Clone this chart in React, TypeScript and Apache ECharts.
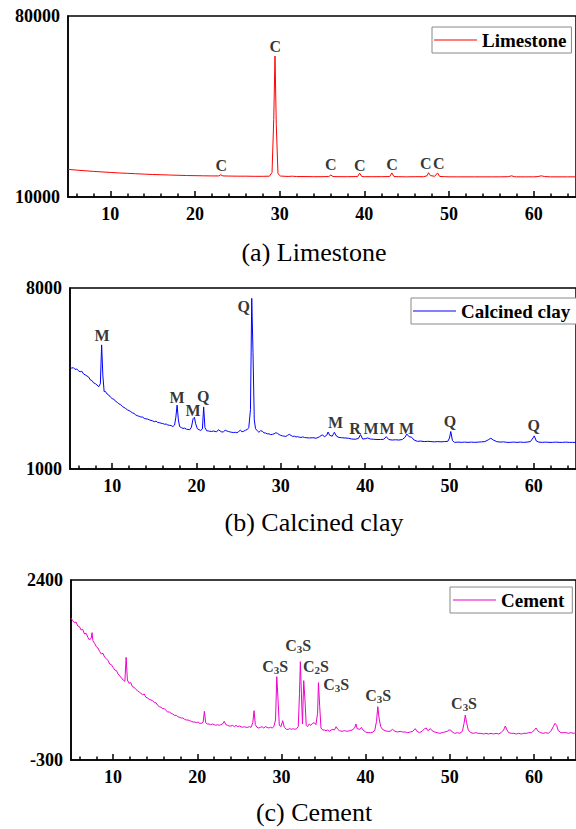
import React, { useEffect, useRef } from "react";
import * as echarts from "echarts";

// ---------- DATA ----------
const xMajorTicks = [10, 20, 30, 40, 50, 60];
const xMinorTicks = [6, 8, 12, 14, 16, 18, 22, 24, 26, 28, 32, 34, 36, 38, 42, 44, 46, 48, 52, 54, 56, 58, 62, 64];

const limestoneTicks = [10000, 80000];
const clayTicks = [1000, 8000];
const cementTicks = [-300, 2400];

const limestone: [number, number][] = [
  [5, 20700], [6, 20400], [7, 20150], [8, 19900], [9, 19700], [10, 19500], [11, 19300], [12, 19150],
  [13, 19000], [14, 18850], [15, 18700], [16, 18600], [17, 18500], [18, 18400], [19, 18300], [20, 18250],
  [21, 18200], [22, 18150], [22.8, 18150], [23.05, 18600], [23.3, 18150], [24, 18100], [25, 18050],
  [26, 18050], [27, 18000], [28, 18000], [28.8, 18050], [29.1, 19500], [29.3, 40000], [29.45, 64500],
  [29.6, 38000], [29.8, 19000], [30.1, 18100], [31, 17950], [31.5, 18050], [32, 17900], [33, 17900],
  [34, 17850], [35, 17850], [35.8, 17900], [36.05, 18500], [36.3, 17900], [37, 17850], [38, 17850],
  [39.2, 17900], [39.45, 19200], [39.7, 17950], [40, 17850], [41, 17850], [42, 17850], [43, 17900],
  [43.25, 19300], [43.5, 17900], [44, 17850], [45, 17800], [46, 17850], [47, 17850], [47.4, 18200],
  [47.58, 19400], [47.8, 18300], [48.3, 18000], [48.65, 19300], [48.9, 17950], [49.5, 17850], [50, 17800],
  [51, 17800], [52, 17800], [53, 17800], [54, 17800], [55, 17800], [56, 17800], [57, 17850], [57.4, 18200],
  [57.7, 17850], [58, 17800], [59, 17800], [60, 17800], [60.5, 17900], [60.9, 18200], [61.3, 17900],
  [62, 17800], [63, 17800], [64, 17800], [65, 17800],
];

const calcinedClay: [number, number][] = [
  [5.0, 4960], [5.2, 4900], [5.4, 4920], [5.6, 4850], [5.8, 4870], [6.0, 4800], [6.2, 4760], [6.4, 4780],
  [6.6, 4680], [6.8, 4640], [7.0, 4600], [7.2, 4560], [7.4, 4450], [7.6, 4420], [7.8, 4330], [8.0, 4300],
  [8.2, 4250], [8.4, 4180], [8.6, 4300], [8.75, 5800], [8.9, 4600], [9.05, 3990], [9.2, 4000], [9.4, 3900],
  [9.6, 3860], [9.8, 3780], [10.0, 3720], [10.2, 3700], [10.4, 3620], [10.6, 3580], [10.8, 3520], [11.0, 3490],
  [11.2, 3420], [11.4, 3380], [11.6, 3340], [11.8, 3290], [12.0, 3260], [12.2, 3220], [12.4, 3170], [12.6, 3150],
  [12.8, 3090], [13.0, 3060], [13.2, 3040], [13.4, 3010], [13.6, 3010], [13.8, 2960], [14.0, 2940], [14.2, 2930],
  [14.4, 2900], [14.6, 2880], [14.8, 2860], [15.0, 2830], [15.2, 2850], [15.4, 2800], [15.6, 2790], [15.8, 2770],
  [16.0, 2760], [16.2, 2730], [16.4, 2740], [16.6, 2700], [16.8, 2690], [17.0, 2680], [17.2, 2640], [17.4, 2700],
  [17.55, 3000], [17.7, 3470], [17.85, 2900], [18.0, 2640], [18.2, 2600], [18.4, 2570], [18.6, 2580], [18.8, 2540],
  [19.0, 2530], [19.2, 2520], [19.4, 2620], [19.6, 2950], [19.75, 3000], [19.9, 2750], [20.1, 2560], [20.3, 2520],
  [20.5, 2490], [20.7, 2550], [20.85, 3400], [21.0, 2600], [21.2, 2480], [21.4, 2470], [21.6, 2460], [21.8, 2450],
  [22.0, 2470], [22.2, 2450], [22.4, 2440], [22.6, 2520], [22.8, 2470], [23.0, 2430], [23.2, 2440], [23.4, 2500],
  [23.6, 2470], [23.8, 2450], [24.0, 2430], [24.2, 2420], [24.4, 2410], [24.6, 2420], [24.8, 2400], [25.0, 2450],
  [25.2, 2500], [25.4, 2440], [25.6, 2460], [25.8, 2500], [26.0, 2520], [26.2, 2600], [26.4, 3300], [26.55, 7600],
  [26.7, 5500], [26.85, 2900], [27.0, 2560], [27.2, 2480], [27.4, 2420], [27.6, 2480], [27.8, 2460], [28.0, 2400],
  [28.2, 2390], [28.4, 2360], [28.6, 2360], [28.8, 2330], [29.0, 2340], [29.2, 2360], [29.4, 2400], [29.6, 2380],
  [29.8, 2330], [30.0, 2300], [30.2, 2280], [30.4, 2270], [30.6, 2260], [30.8, 2300], [31.0, 2340], [31.2, 2300],
  [31.4, 2260], [31.6, 2270], [31.8, 2240], [32.0, 2250], [32.2, 2230], [32.4, 2220], [32.6, 2240], [32.8, 2220],
  [33.0, 2210], [33.4, 2200], [33.8, 2210], [34.2, 2190], [34.6, 2250], [34.9, 2320], [35.2, 2250], [35.45, 2310],
  [35.6, 2430], [35.8, 2300], [36.1, 2270], [36.35, 2420], [36.6, 2270], [36.9, 2220], [37.2, 2210], [37.6, 2200],
  [38.0, 2190], [38.4, 2160], [38.8, 2150], [39.2, 2180], [39.45, 2330], [39.7, 2160], [40.0, 2170], [40.3, 2200],
  [40.6, 2160], [41.0, 2150], [41.4, 2140], [41.8, 2140], [42.2, 2150], [42.5, 2250], [42.8, 2140], [43.2, 2120],
  [43.6, 2130], [44.0, 2120], [44.4, 2140], [44.7, 2220], [44.95, 2350], [45.2, 2250], [45.5, 2230], [45.8, 2120],
  [46.2, 2070], [46.6, 2080], [47.0, 2060], [47.4, 2070], [47.8, 2060], [48.2, 2050], [48.6, 2060], [49.0, 2050],
  [49.4, 2060], [49.8, 2070], [50.0, 2200], [50.15, 2450], [50.35, 2100], [50.6, 2030], [51.0, 2040], [51.4, 2030],
  [51.8, 2040], [52.2, 2030], [52.6, 2040], [53.0, 2030], [53.4, 2040], [53.8, 2050], [54.2, 2060], [54.6, 2130],
  [54.9, 2190], [55.2, 2120], [55.6, 2060], [56.0, 2040], [56.4, 2050], [56.8, 2030], [57.2, 2030], [57.6, 2040],
  [58.0, 2030], [58.4, 2040], [58.8, 2030], [59.2, 2040], [59.6, 2060], [59.9, 2200], [60.05, 2280], [60.3, 2080],
  [60.6, 2040], [61.0, 2030], [61.4, 2040], [61.8, 2030], [62.2, 2030], [62.6, 2040], [63.0, 2030], [63.4, 2030],
  [63.8, 2040], [64.2, 2030], [64.6, 2030], [65.0, 2030],
];

const cement: [number, number][] = [
  [5.0, 1830], [5.2, 1790], [5.4, 1760], [5.6, 1770], [5.8, 1710], [6.0, 1700], [6.2, 1650], [6.4, 1660],
  [6.6, 1590], [6.8, 1600], [7.0, 1540], [7.2, 1500], [7.4, 1530], [7.5, 1610], [7.6, 1490], [7.8, 1450],
  [8.0, 1400], [8.2, 1380], [8.4, 1330], [8.6, 1290], [8.8, 1300], [9.0, 1240], [9.2, 1220], [9.4, 1190],
  [9.6, 1140], [9.8, 1130], [10.0, 1090], [10.2, 1050], [10.4, 1040], [10.6, 990], [10.8, 960], [11.0, 930],
  [11.2, 900], [11.4, 880], [11.55, 1240], [11.7, 900], [11.9, 850], [12.1, 860], [12.3, 800], [12.5, 790],
  [12.7, 760], [12.9, 740], [13.1, 720], [13.3, 700], [13.5, 680], [13.7, 690], [13.9, 640], [14.1, 630],
  [14.3, 610], [14.5, 600], [14.7, 590], [14.9, 560], [15.1, 560], [15.3, 520], [15.5, 500], [15.7, 490],
  [15.9, 470], [16.1, 470], [16.3, 440], [16.5, 420], [16.7, 420], [16.9, 400], [17.1, 390], [17.3, 370],
  [17.5, 370], [17.7, 350], [17.9, 340], [18.1, 330], [18.3, 330], [18.5, 310], [18.7, 300], [18.9, 300],
  [19.1, 290], [19.3, 280], [19.5, 270], [19.7, 270], [19.9, 260], [20.1, 270], [20.3, 250], [20.5, 250],
  [20.7, 270], [20.85, 430], [21.0, 260], [21.2, 240], [21.4, 240], [21.6, 230], [21.8, 240], [22.0, 230],
  [22.2, 220], [22.4, 230], [22.6, 220], [22.8, 230], [23.0, 240], [23.2, 280], [23.4, 230], [23.6, 220],
  [23.8, 210], [24.0, 210], [24.2, 220], [24.4, 200], [24.6, 220], [24.8, 200], [25.0, 210], [25.2, 200],
  [25.4, 190], [25.6, 200], [25.8, 190], [26.0, 190], [26.2, 200], [26.4, 190], [26.6, 260], [26.75, 440],
  [26.9, 230], [27.1, 190], [27.3, 180], [27.5, 190], [27.7, 200], [27.9, 180], [28.1, 200], [28.3, 190],
  [28.5, 180], [28.7, 190], [28.9, 180], [29.1, 200], [29.3, 300], [29.45, 950], [29.6, 600], [29.75, 220],
  [29.95, 200], [30.15, 290], [30.35, 190], [30.6, 160], [30.8, 160], [31.0, 170], [31.2, 160], [31.4, 170],
  [31.6, 160], [31.8, 170], [32.0, 200], [32.15, 700], [32.25, 1175], [32.4, 600], [32.5, 240], [32.65, 890],
  [32.8, 600], [32.95, 220], [33.1, 200], [33.3, 240], [33.5, 220], [33.7, 250], [33.9, 260], [34.1, 230],
  [34.3, 400], [34.4, 860], [34.55, 500], [34.7, 180], [34.9, 150], [35.1, 150], [35.3, 140], [35.5, 150],
  [35.7, 130], [35.9, 150], [36.1, 160], [36.3, 150], [36.5, 200], [36.7, 160], [36.9, 140], [37.2, 130],
  [37.5, 140], [37.8, 130], [38.1, 140], [38.4, 150], [38.7, 180], [38.85, 240], [39.0, 170], [39.3, 160],
  [39.5, 190], [39.7, 150], [40.0, 120], [40.3, 110], [40.6, 110], [40.9, 120], [41.1, 150], [41.3, 280],
  [41.45, 500], [41.6, 330], [41.8, 200], [42.0, 160], [42.3, 140], [42.6, 130], [42.9, 130], [43.2, 160],
  [43.5, 130], [43.8, 120], [44.1, 130], [44.4, 120], [44.7, 120], [45.0, 110], [45.3, 120], [45.6, 130],
  [45.9, 170], [46.1, 130], [46.4, 110], [46.7, 130], [47.0, 170], [47.2, 180], [47.4, 140], [47.7, 170],
  [47.9, 140], [48.2, 120], [48.5, 110], [48.8, 100], [49.1, 110], [49.4, 120], [49.7, 130], [49.9, 150],
  [50.1, 150], [50.3, 120], [50.6, 100], [50.9, 110], [51.2, 100], [51.5, 130], [51.7, 250], [51.85, 375],
  [52.0, 260], [52.2, 150], [52.5, 110], [52.8, 100], [53.1, 110], [53.4, 100], [53.7, 100], [54.0, 90],
  [54.3, 100], [54.6, 90], [54.9, 100], [55.2, 90], [55.5, 100], [55.8, 90], [56.1, 110], [56.4, 150],
  [56.6, 210], [56.8, 150], [57.0, 110], [57.3, 100], [57.6, 100], [57.9, 90], [58.2, 100], [58.5, 90],
  [58.8, 100], [59.1, 100], [59.4, 110], [59.7, 110], [60.0, 140], [60.25, 180], [60.5, 130], [60.8, 110],
  [61.1, 100], [61.4, 110], [61.7, 100], [62.0, 130], [62.3, 200], [62.5, 250], [62.7, 220], [62.9, 140],
  [63.2, 110], [63.5, 110], [63.8, 110], [64.1, 100], [64.4, 110], [64.7, 100], [65.0, 110],
];

// peak annotations: [2θ, intensity at label centre, label]
const limestonePeaks: [number, number, string][] = [
  [23.1, 22100, "C"], [29.47, 68100, "C"], [36.05, 22760, "C"], [39.47, 22370, "C"],
  [43.26, 22760, "C"], [47.25, 23030, "C"], [48.8, 23030, "C"],
];
const clayPeaks: [number, number, string][] = [
  [8.8, 6180, "M"], [17.7, 3760, "M"], [19.6, 3280, "M"], [20.8, 3800, "Q"], [25.6, 7300, "Q"],
  [36.5, 2790, "M"], [38.8, 2570, "R"], [40.7, 2570, "M"], [42.6, 2570, "M"], [44.9, 2570, "M"],
  [50.05, 2830, "Q"], [60.0, 2700, "Q"],
];
const cementPeaks: [number, number, string][] = [
  [29.25, 1110, "C3S"], [32.0, 1425, "C3S"], [34.1, 1110, "C2S"], [36.5, 835, "C3S"],
  [41.5, 665, "C3S"], [51.7, 550, "C3S"],
];

const panelNames = ["Limestone", "Calcined clay", "Cement"];
const panelTitles = ["(a) Limestone", "(b) Calcined clay", "(c) Cement"];

// ---------- CHART ----------
const SERIF = "'Liberation Serif', 'Times New Roman', serif";

const panels = [
  { grid: { left: 68, top: 16, width: 514, height: 181 }, y: limestoneTicks, data: limestone, peaks: limestonePeaks, color: "#ff0000", legend: { left: 432, top: 27, padding: [3, 5, 3, 2] }, titleY: 252 },
  { grid: { left: 70, top: 288, width: 515, height: 181 }, y: clayTicks, data: calcinedClay, peaks: clayPeaks, color: "#0000ff", legend: { left: 411, top: 298, padding: [3, 8, 3, 2] }, titleY: 522 },
  { grid: { left: 71, top: 580, width: 514, height: 180 }, y: cementTicks, data: cement, peaks: cementPeaks, color: "#ee00cc", legend: { left: 450, top: 587, padding: [3, 8, 3, 3] }, titleY: 812 },
];

function richLabel(t: string) {
  return t
    .split("")
    .map((ch) => (/\d/.test(ch) ? `{s|${ch}}` : `{n|${ch}}`))
    .join("");
}

function buildOption() {
  const grid: any[] = [];
  const xAxis: any[] = [];
  const yAxis: any[] = [];
  const series: any[] = [];
  const legend: any[] = [];
  const graphic: any[] = [];

  panels.forEach((p, i) => {
    const g = i * 2;
    grid.push({ ...p.grid, show: true, borderColor: "#000", borderWidth: 1.5, backgroundColor: "transparent", containLabel: false });
    grid.push({ ...p.grid, show: false, containLabel: false });

    xAxis.push({
      type: "value", gridIndex: g, min: 5, max: 65, position: "bottom",
      axisLine: { show: true, onZero: false, lineStyle: { color: "#000", width: 1.5 } },
      axisTick: { show: true, inside: true, length: 6, customValues: xMajorTicks, lineStyle: { color: "#000", width: 1.5 } },
      axisLabel: { show: true, customValues: xMajorTicks, color: "#000", fontFamily: SERIF, fontWeight: "bold", fontSize: 18, margin: 8 },
      splitLine: { show: false },
    });
    xAxis.push({
      type: "value", gridIndex: g + 1, min: 5, max: 65, position: "bottom",
      axisLine: { show: false, onZero: false },
      axisTick: { show: true, inside: true, length: 3.5, customValues: xMinorTicks, lineStyle: { color: "#000", width: 1.5 } },
      axisLabel: { show: false },
      splitLine: { show: false },
    });
    yAxis.push({
      type: "value", gridIndex: g, min: p.y[0], max: p.y[1],
      axisLine: { show: true, onZero: false, lineStyle: { color: "#000", width: 1.5 } },
      axisTick: { show: false },
      axisLabel: {
        show: true, customValues: p.y, color: "#000", fontFamily: SERIF, fontWeight: "bold", fontSize: 18, margin: 8,
        formatter: (v: number) => String(v),
      },
      splitLine: { show: false },
    });
    yAxis.push({ type: "value", gridIndex: g + 1, min: p.y[0], max: p.y[1], show: false, axisLine: { onZero: false } });

    series.push({
      name: panelNames[i], type: "line", xAxisIndex: g, yAxisIndex: g,
      data: p.data, symbol: "none", smooth: false,
      lineStyle: { color: p.color, width: 1 }, itemStyle: { color: p.color },
    });
    series.push({
      type: "scatter", xAxisIndex: g, yAxisIndex: g, silent: true,
      data: p.peaks.map((pk) => ({ value: [pk[0], pk[1]], name: pk[2] })),
      symbol: "circle", symbolSize: 1, itemStyle: { color: "rgba(0,0,0,0)" },
      label: {
        show: true, position: "inside",
        formatter: (params: any) => richLabel(params.name),
        rich: {
          n: { fontFamily: SERIF, fontWeight: "bold", fontSize: 16, color: "#000", lineHeight: 18, verticalAlign: "middle" },
          s: { fontFamily: SERIF, fontWeight: "bold", fontSize: 11, color: "#000", lineHeight: 18, verticalAlign: "bottom" },
        },
      },
    });

    legend.push({
      data: [{ name: panelNames[i], icon: "rect", itemStyle: { color: p.color } }],
      left: p.legend.left, top: p.legend.top, orient: "horizontal",
      padding: p.legend.padding, itemWidth: 43, itemHeight: 1, borderColor: "#888", borderWidth: 1,
      backgroundColor: "#fff", selectedMode: false,
      textStyle: { fontFamily: SERIF, fontWeight: "bold", fontSize: 19, color: "#000", lineHeight: 20 },
    });

    graphic.push({
      type: "text", x: 314, y: p.titleY,
      style: {
        text: panelTitles[i], font: `26px ${SERIF}`, fill: "#000",
        align: "center", verticalAlign: "middle", textAlign: "center", textVerticalAlign: "middle",
      },
    });
  });

  return { animation: false, backgroundColor: "#fff", grid, xAxis, yAxis, series, legend, graphic };
}

export default function App() {
  const ref = useRef<HTMLDivElement>(null);
  useEffect(() => {
    if (!ref.current) return;
    const chart = echarts.init(ref.current, undefined, { renderer: "svg" });
    chart.setOption(buildOption() as any);
    return () => chart.dispose();
  }, []);
  return <div ref={ref} style={{ position: "absolute", left: 0, top: 0, width: 576, height: 829, overflow: "hidden" }} />;
}
